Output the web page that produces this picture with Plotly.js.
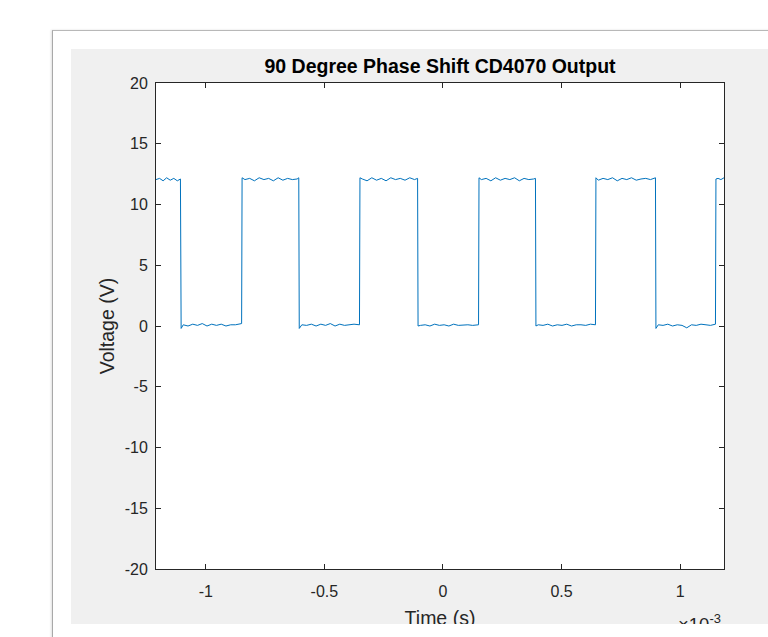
<!DOCTYPE html>
<html>
<head>
<meta charset="utf-8">
<script src="https://cdn.plot.ly/plotly-3.0.1.min.js"></script>
<style>
  html, body { margin: 0; padding: 0; background: #ffffff; width: 768px; height: 637px; overflow: hidden; }
  #frame { position: absolute; left: 52px; top: 30px; width: 760px; height: 700px; border-left: 1px solid #a9a9a9; border-top: 1px solid #b8b8b8; background: #ffffff; box-shadow: -1px 0 2px rgba(0,0,0,0.12); }
  #panel { position: absolute; left: 71px; top: 49px; width: 697px; height: 575px; background: #f0f0f0; }
  #chart { position: absolute; left: 0; top: 0; width: 768px; height: 637px; }
  #cover { position: absolute; left: 53px; top: 624px; width: 715px; height: 13px; background: #ffffff; z-index: 10; }
</style>
</head>
<body>
<div id="frame"></div>
<div id="panel"></div>
<div id="chart"></div>
<div id="cover"></div>
<script>
// Time in milliseconds (axis shows x10^-3 s), voltage in volts
const timeMs = [
  -1.210, -1.195, -1.180, -1.165, -1.150, -1.135, -1.120, -1.107,
  -1.104,
  -1.095, -1.075, -1.055, -1.035, -1.015, -0.995, -0.975, -0.955, -0.935, -0.915, -0.895, -0.875, -0.860, -0.849,
  -0.847,
  -0.835, -0.815, -0.795, -0.775, -0.755, -0.735, -0.715, -0.695, -0.675, -0.655, -0.635, -0.615, -0.608,
  -0.606,
  -0.595, -0.575, -0.555, -0.535, -0.515, -0.495, -0.475, -0.455, -0.435, -0.415, -0.395, -0.375, -0.352,
  -0.350,
  -0.340, -0.320, -0.300, -0.280, -0.260, -0.240, -0.220, -0.200, -0.180, -0.160, -0.140, -0.120, -0.107,
  -0.105,
  -0.095, -0.075, -0.055, -0.035, -0.015, 0.005, 0.025, 0.045, 0.065, 0.085, 0.105, 0.125, 0.150,
  0.152,
  0.162, 0.182, 0.202, 0.222, 0.242, 0.262, 0.282, 0.302, 0.322, 0.342, 0.362, 0.382, 0.390,
  0.392,
  0.402, 0.422, 0.442, 0.462, 0.482, 0.502, 0.522, 0.542, 0.562, 0.582, 0.602, 0.622, 0.643,
  0.645,
  0.655, 0.675, 0.695, 0.715, 0.735, 0.755, 0.775, 0.795, 0.815, 0.835, 0.855, 0.875, 0.896,
  0.898,
  0.908, 0.928, 0.948, 0.968, 0.988, 1.008, 1.028, 1.048, 1.068, 1.088, 1.108, 1.128, 1.149,
  1.151,
  1.160, 1.172, 1.185
];
const voltage = [
  12.05, 12.15, 11.95, 12.20, 12.00, 12.15, 11.95, 12.10,
  -0.20,
  0.10, 0.00, 0.15, 0.05, 0.20, 0.00, 0.15, 0.05, 0.15, 0.00, 0.10, 0.10, 0.15, 0.20,
  12.20,
  12.05, 12.15, 11.95, 12.20, 12.05, 12.15, 11.95, 12.20, 12.00, 12.15, 12.05, 12.10, 12.20,
  -0.20,
  0.10, 0.05, 0.15, 0.00, 0.15, 0.05, 0.20, 0.00, 0.15, 0.05, 0.10, 0.15, 0.10,
  12.20,
  12.10, 11.95, 12.20, 12.00, 12.15, 11.95, 12.20, 12.05, 12.15, 12.00, 12.20, 12.05, 12.15,
  0.00,
  0.05, 0.10, 0.00, 0.15, 0.05, 0.10, 0.00, 0.15, 0.05, 0.10, 0.10, 0.05, 0.10,
  12.20,
  12.05, 12.15, 11.95, 12.20, 12.00, 12.15, 12.05, 12.20, 11.95, 12.15, 12.05, 12.10, 12.15,
  0.00,
  0.10, 0.05, 0.15, 0.00, 0.10, 0.05, 0.15, 0.00, 0.10, 0.10, 0.05, 0.15, 0.10,
  12.20,
  12.00, 12.15, 12.05, 12.20, 11.95, 12.15, 12.05, 12.20, 12.00, 12.10, 12.15, 12.05, 12.20,
  -0.20,
  0.10, 0.05, 0.15, 0.00, 0.10, 0.05, -0.15, 0.10, 0.05, 0.15, 0.10, 0.05, 0.15,
  12.10,
  12.15, 12.05, 12.20
];
const xTickVals = [-1, -0.5, 0, 0.5, 1];
const xTickText = ['-1', '-0.5', '0', '0.5', '1'];
const yTickVals = [-20, -15, -10, -5, 0, 5, 10, 15, 20];
const yTickText = ['-20', '-15', '-10', '-5', '0', '5', '10', '15', '20'];

const FONT = '"Liberation Sans", Arial, Helvetica, sans-serif';
const AX = '#262626';

const trace = {
  x: timeMs, y: voltage, type: 'scatter', mode: 'lines',
  line: { color: '#0072BD', width: 1 }, hoverinfo: 'skip', showlegend: false
};

const axisCommon = {
  showgrid: false, zeroline: false, showline: true, mirror: 'ticks',
  linecolor: AX, linewidth: 1, ticks: 'inside', ticklen: 5, tickwidth: 1, tickcolor: AX,
  tickfont: { family: FONT, size: 16, color: AX }
};

const layout = {
  width: 768, height: 637,
  paper_bgcolor: 'rgba(0,0,0,0)', plot_bgcolor: '#ffffff',
  margin: { l: 156, r: 44, t: 83, b: 68, pad: 0 },
  font: { family: FONT, color: AX },
  title: { text: '<b>90 Degree Phase Shift CD4070 Output</b>', font: { family: FONT, size: 19.5, color: '#000000' },
           x: 0.5, xref: 'paper', y: 1 - 66/637, yref: 'container', yanchor: 'middle' },
  xaxis: Object.assign({}, axisCommon, {
    range: [-1.21, 1.185], tickmode: 'array', tickvals: xTickVals, ticktext: xTickText,
    ticklabelstandoff: 8,
    title: { text: 'Time (s)', font: { family: FONT, size: 19.5, color: AX }, standoff: 12 }
  }),
  yaxis: Object.assign({}, axisCommon, {
    range: [-20, 20], tickmode: 'array', tickvals: yTickVals, ticktext: yTickText,
    ticklabelstandoff: 4,
    title: { text: 'Voltage (V)', font: { family: FONT, size: 19.5, color: AX }, standoff: 4 }
  }),
  annotations: [{
    text: '\u00d710<sup>-3</sup>', xref: 'paper', yref: 'paper', x: 1, y: 0,
    xanchor: 'right', yanchor: 'top', xshift: -1, yshift: -40, showarrow: false,
    font: { family: FONT, size: 18.5, color: AX }
  }]
};

Plotly.newPlot('chart', [trace], layout, { staticPlot: true, displayModeBar: false });
</script>
</body>
</html>
